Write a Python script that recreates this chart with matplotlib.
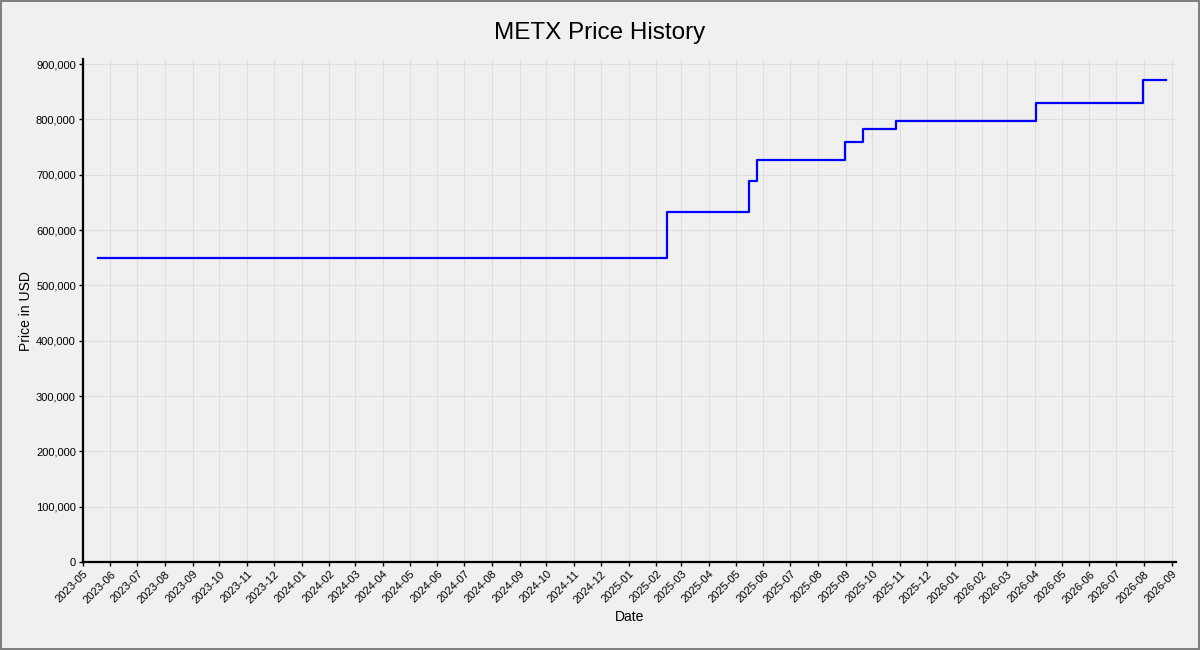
import pandas as pd
import matplotlib.pyplot as plt
import matplotlib.dates as mdates
from matplotlib.ticker import FuncFormatter

# Dane: daty zmian ceny i ceny
dates = ["2023-05-18", "2025-02-13", "2025-05-16", "2025-05-25", "2025-08-31",
         "2025-09-21", "2025-10-27", "2026-04-02", "2026-07-31", "2026-08-26"]
prices = [550000, 632000, 688000, 727000, 758500,
          782000, 797000, 829000, 871000, 871000]

data = pd.DataFrame({"Date": pd.to_datetime(dates), "Price": prices})

plt.rcParams.update({"font.family": ["Liberation Sans", "DejaVu Sans"]})

fig = plt.figure(figsize=(12, 6.5), dpi=100, facecolor="#f0f0f0",
                 edgecolor="#808080", linewidth=1.5)
ax = fig.add_axes([0.069, 0.1354, 0.911, 0.7736])
ax.set_facecolor("#f0f0f0")

ax.plot(data["Date"], data["Price"], color="blue", linewidth=1.6, drawstyle="steps-post")

ax.set_xlim(pd.to_datetime("2023-05-01"), pd.to_datetime("2026-09-06"))
ax.set_ylim(0, 909000)
ax.set_yticks(range(0, 900001, 100000))
ax.yaxis.set_major_formatter(FuncFormatter(lambda v, p: f"{int(v):,}"))
ax.xaxis.set_major_locator(mdates.MonthLocator())
ax.xaxis.set_major_formatter(mdates.DateFormatter("%Y-%m"))
plt.setp(ax.get_xticklabels(), rotation=45, ha="right", rotation_mode="anchor")

ax.grid(True, color="#dedede", linewidth=0.8)
ax.set_axisbelow(True)
for side in ["top", "right"]:
    ax.spines[side].set_visible(False)
for side in ["left", "bottom"]:
    ax.spines[side].set_linewidth(1.6)
    ax.spines[side].set_color("black")
ax.tick_params(labelsize=8, length=3, width=1, colors="black", pad=2)

fig.suptitle("METX Price History", fontsize=17.5, x=0.5, y=0.949, va="center")
ax.set_xlabel("Date", fontsize=10)
ax.set_ylabel("Price in USD", fontsize=10)
ax.yaxis.set_label_coords(-0.046, 0.5)
ax.xaxis.set_label_coords(0.5, -0.095)

fig.savefig("out.png", dpi=100, facecolor=fig.get_facecolor(), edgecolor=fig.get_edgecolor())
